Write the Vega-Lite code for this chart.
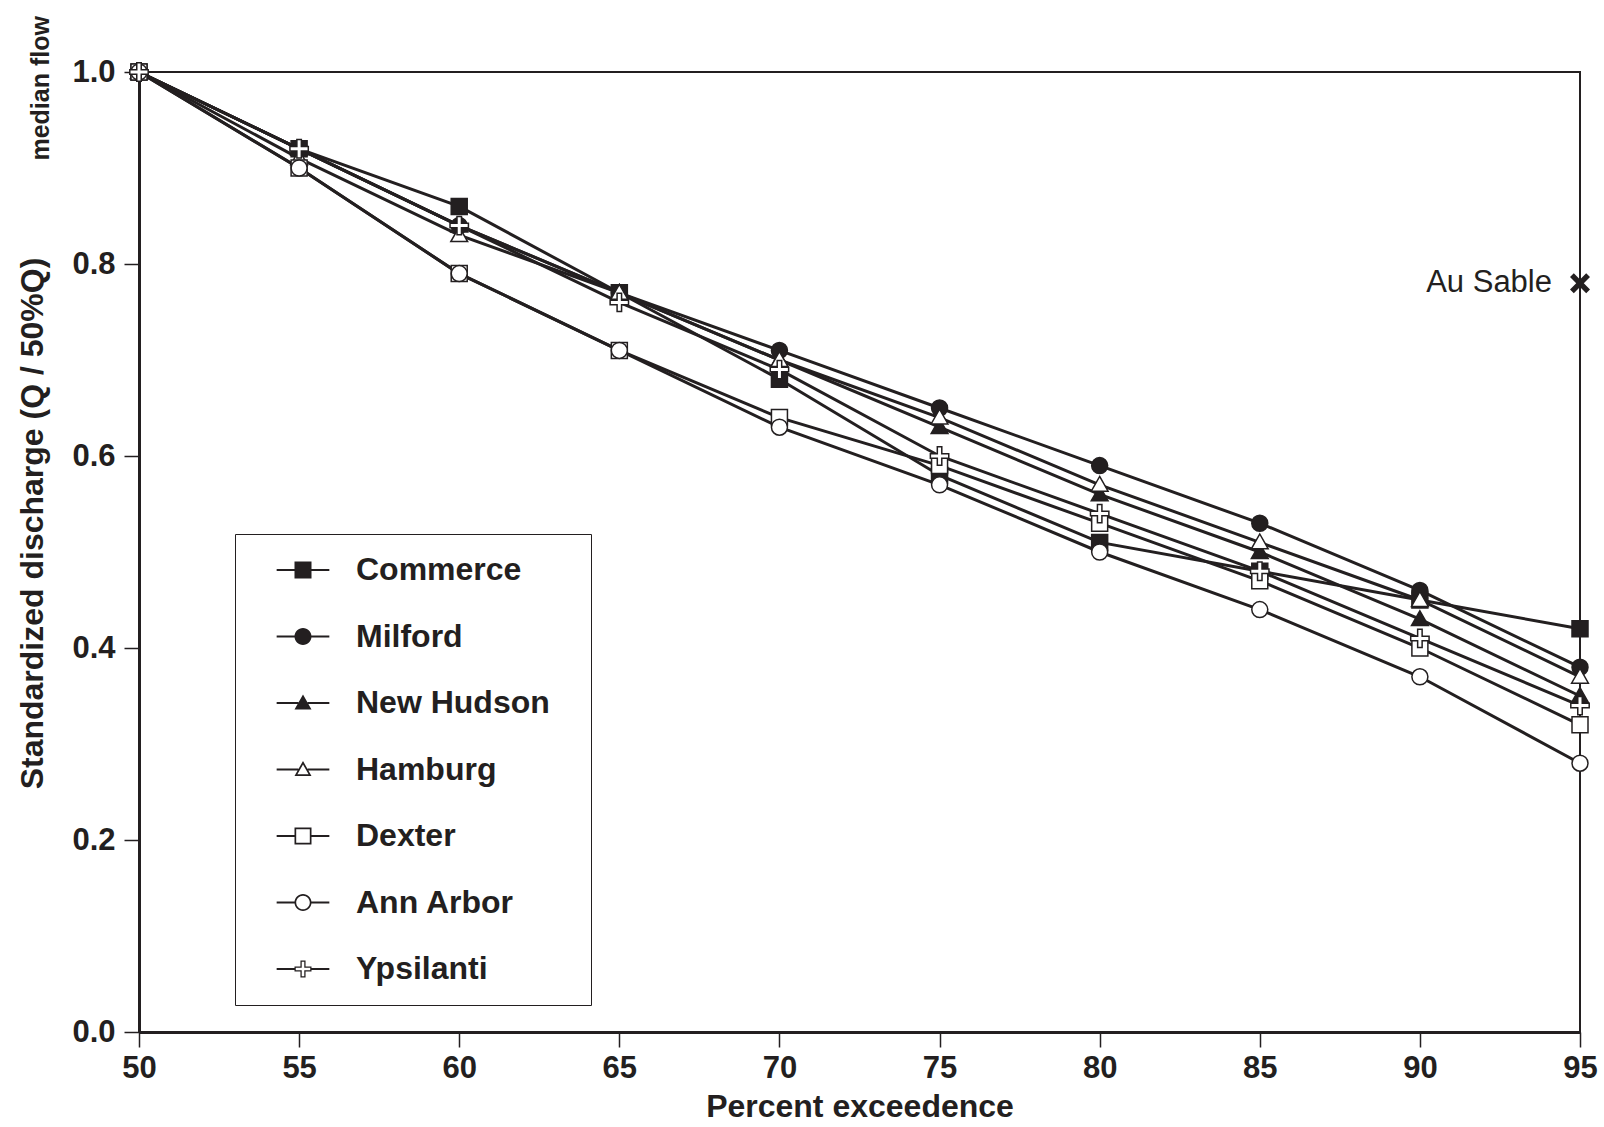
{
  "$schema": "https://vega.github.io/schema/vega-lite/v6.json",
  "width": 1441,
  "height": 960,
  "autosize": {"type": "none"},
  "padding": {"left": 139, "top": 72, "right": 24, "bottom": 95},
  "background": "white",
  "config": {
    "font": "Liberation Sans",
    "view": {"stroke": "#231f20", "strokeWidth": 2},
    "axis": {
      "grid": false,
      "domainColor": "#231f20", "domainWidth": 3,
      "tickColor": "#231f20", "tickWidth": 1.5, "tickSize": 15,
      "labelFont": "Liberation Sans", "labelFontSize": 31, "labelFontWeight": "bold", "labelColor": "#231f20",
      "titleFont": "Liberation Sans", "titleFontSize": 32, "titleFontWeight": "bold", "titleColor": "#231f20"
    }
  },
  "data": {"values": [
    {"site": "Commerce", "pct": 50, "q": 1.0}, {"site": "Commerce", "pct": 55, "q": 0.92}, {"site": "Commerce", "pct": 60, "q": 0.86}, {"site": "Commerce", "pct": 65, "q": 0.77}, {"site": "Commerce", "pct": 70, "q": 0.68}, {"site": "Commerce", "pct": 75, "q": 0.58}, {"site": "Commerce", "pct": 80, "q": 0.51}, {"site": "Commerce", "pct": 85, "q": 0.48}, {"site": "Commerce", "pct": 90, "q": 0.45}, {"site": "Commerce", "pct": 95, "q": 0.42},
    {"site": "Milford", "pct": 50, "q": 1.0}, {"site": "Milford", "pct": 55, "q": 0.92}, {"site": "Milford", "pct": 60, "q": 0.84}, {"site": "Milford", "pct": 65, "q": 0.77}, {"site": "Milford", "pct": 70, "q": 0.71}, {"site": "Milford", "pct": 75, "q": 0.65}, {"site": "Milford", "pct": 80, "q": 0.59}, {"site": "Milford", "pct": 85, "q": 0.53}, {"site": "Milford", "pct": 90, "q": 0.46}, {"site": "Milford", "pct": 95, "q": 0.38},
    {"site": "New Hudson", "pct": 50, "q": 1.0}, {"site": "New Hudson", "pct": 55, "q": 0.92}, {"site": "New Hudson", "pct": 60, "q": 0.84}, {"site": "New Hudson", "pct": 65, "q": 0.77}, {"site": "New Hudson", "pct": 70, "q": 0.70}, {"site": "New Hudson", "pct": 75, "q": 0.63}, {"site": "New Hudson", "pct": 80, "q": 0.56}, {"site": "New Hudson", "pct": 85, "q": 0.50}, {"site": "New Hudson", "pct": 90, "q": 0.43}, {"site": "New Hudson", "pct": 95, "q": 0.35},
    {"site": "Hamburg", "pct": 50, "q": 1.0}, {"site": "Hamburg", "pct": 55, "q": 0.91}, {"site": "Hamburg", "pct": 60, "q": 0.83}, {"site": "Hamburg", "pct": 65, "q": 0.77}, {"site": "Hamburg", "pct": 70, "q": 0.70}, {"site": "Hamburg", "pct": 75, "q": 0.64}, {"site": "Hamburg", "pct": 80, "q": 0.57}, {"site": "Hamburg", "pct": 85, "q": 0.51}, {"site": "Hamburg", "pct": 90, "q": 0.45}, {"site": "Hamburg", "pct": 95, "q": 0.37},
    {"site": "Dexter", "pct": 50, "q": 1.0}, {"site": "Dexter", "pct": 55, "q": 0.90}, {"site": "Dexter", "pct": 60, "q": 0.79}, {"site": "Dexter", "pct": 65, "q": 0.71}, {"site": "Dexter", "pct": 70, "q": 0.64}, {"site": "Dexter", "pct": 75, "q": 0.59}, {"site": "Dexter", "pct": 80, "q": 0.53}, {"site": "Dexter", "pct": 85, "q": 0.47}, {"site": "Dexter", "pct": 90, "q": 0.40}, {"site": "Dexter", "pct": 95, "q": 0.32},
    {"site": "Ann Arbor", "pct": 50, "q": 1.0}, {"site": "Ann Arbor", "pct": 55, "q": 0.90}, {"site": "Ann Arbor", "pct": 60, "q": 0.79}, {"site": "Ann Arbor", "pct": 65, "q": 0.71}, {"site": "Ann Arbor", "pct": 70, "q": 0.63}, {"site": "Ann Arbor", "pct": 75, "q": 0.57}, {"site": "Ann Arbor", "pct": 80, "q": 0.50}, {"site": "Ann Arbor", "pct": 85, "q": 0.44}, {"site": "Ann Arbor", "pct": 90, "q": 0.37}, {"site": "Ann Arbor", "pct": 95, "q": 0.28},
    {"site": "Ypsilanti", "pct": 50, "q": 1.0}, {"site": "Ypsilanti", "pct": 55, "q": 0.92}, {"site": "Ypsilanti", "pct": 60, "q": 0.84}, {"site": "Ypsilanti", "pct": 65, "q": 0.76}, {"site": "Ypsilanti", "pct": 70, "q": 0.69}, {"site": "Ypsilanti", "pct": 75, "q": 0.60}, {"site": "Ypsilanti", "pct": 80, "q": 0.54}, {"site": "Ypsilanti", "pct": 85, "q": 0.48}, {"site": "Ypsilanti", "pct": 90, "q": 0.41}, {"site": "Ypsilanti", "pct": 95, "q": 0.34}
  ]},
  "encoding": {
    "x": {"field": "pct", "type": "quantitative",
      "scale": {"domain": [50, 95], "nice": false, "zero": false},
      "axis": {"values": [50, 55, 60, 65, 70, 75, 80, 85, 90, 95], "title": "Percent exceedence", "labelFlush": false, "labelPadding": 6, "titlePadding": 8}},
    "y": {"field": "q", "type": "quantitative",
      "scale": {"domain": [0, 1], "nice": false},
      "axis": {"values": [0, 0.2, 0.4, 0.6, 0.8, 1.0], "format": ".1f", "title": "Standardized discharge (Q / 50%Q)", "labelFlush": false, "labelPadding": 9, "titlePadding": 22, "titleY": 451}}
  },
  "layer": [
    {
      "mark": {"type": "line", "color": "#231f20", "strokeWidth": 3},
      "encoding": {"detail": {"field": "site"}, "order": {"field": "pct"}}
    },
    {
      "mark": {"type": "point", "filled": true, "size": 256, "stroke": "#231f20", "strokeWidth": 1.5, "opacity": 1},
      "encoding": {
        "shape": {"field": "site", "type": "nominal", "legend": null,
          "scale": {"domain": ["Commerce", "Milford", "New Hudson", "Hamburg", "Dexter", "Ann Arbor", "Ypsilanti"],
            "range": ["M-1,-1H1V1H-1Z", "M-1,0A1,1,0,1,1,1,0A1,1,0,1,1,-1,0Z", "M0,-1.05L1.05,0.8H-1.05Z", "M0,-1.05L1.05,0.8H-1.05Z", "M-1,-1H1V1H-1Z", "M-1,0A1,1,0,1,1,1,0A1,1,0,1,1,-1,0Z", "M-0.28,-1.15H0.28V-0.28H1.15V0.28H0.28V1.15H-0.28V0.28H-1.15V-0.28H-0.28Z"]}},
        "fill": {"field": "site", "type": "nominal", "legend": null,
          "scale": {"domain": ["Commerce", "Milford", "New Hudson", "Hamburg", "Dexter", "Ann Arbor", "Ypsilanti"],
            "range": ["#231f20", "#231f20", "#231f20", "white", "white", "white", "white"]}}
      }
    },
    {
      "mark": {"type": "point", "filled": true, "size": 289, "color": "#231f20", "strokeWidth": 0, "opacity": 0},
      "encoding": {
        "shape": {"field": "site", "type": "nominal",
          "scale": {"domain": ["Commerce", "Milford", "New Hudson", "Hamburg", "Dexter", "Ann Arbor", "Ypsilanti"],
            "range": [
              "M-3.1,-0.12H-1V0.12H-3.1Z M1,-0.12H3.1V0.12H1Z M-1,-1H1V1H-1Z",
              "M-3.1,-0.12H-0.95V0.12H-3.1Z M0.95,-0.12H3.1V0.12H0.95Z M-1,0A1,1,0,1,1,1,0A1,1,0,1,1,-1,0Z",
              "M-3.1,-0.12H-0.55V0.12H-3.1Z M0.55,-0.12H3.1V0.12H0.55Z M0,-1L1,0.75H-1Z",
              "M-3.1,-0.12H-0.55V0.12H-3.1Z M0.55,-0.12H3.1V0.12H0.55Z M0,-1L1,0.75H-1Z M0,-0.6L-0.657,0.55H0.657Z",
              "M-3.1,-0.12H-1V0.12H-3.1Z M1,-0.12H3.1V0.12H1Z M-1,-1H1V1H-1Z M-0.8,-0.8V0.8H0.8V-0.8Z",
              "M-3.1,-0.12H-0.95V0.12H-3.1Z M0.95,-0.12H3.1V0.12H0.95Z M-1,0A1,1,0,1,1,1,0A1,1,0,1,1,-1,0Z M-0.8,0A0.8,0.8,0,1,0,0.8,0A0.8,0.8,0,1,0,-0.8,0Z",
              "M-3.1,-0.12H-0.95V0.12H-3.1Z M0.95,-0.12H3.1V0.12H0.95Z M-0.3,-1H0.3V-0.3H1V0.3H0.3V1H-0.3V0.3H-1V-0.3H-0.3Z M-0.15,-0.85V-0.15H-0.85V0.15H-0.15V0.85H0.15V0.15H0.85V-0.15H0.15V-0.85Z"
            ]},
          "legend": {"title": null, "orient": "none", "legendX": 96, "legendY": 462, "direction": "vertical",
            "padding": 20, "rowPadding": 34.5, "symbolOffset": 32, "labelOffset": 37, "labelLimit": 500, "symbolSize": 289,
            "symbolOpacity": 1, "symbolFillColor": "#231f20", "symbolStrokeWidth": 0,
            "labelExpr": "datum.label + '\u00a0\u00a0\u200a\u200b'",
            "labelFont": "Liberation Sans", "labelFontSize": 32, "labelFontWeight": "bold", "labelColor": "#231f20",
            "strokeColor": "#231f20", "fillColor": "white"}}
      }
    },
    {
      "data": {"values": [{"label": "Au Sable", "pct": 95, "q": 0.78}]},
      "mark": {"type": "point", "shape": "M-1,-0.62L-0.62,-1L0,-0.38L0.62,-1L1,-0.62L0.38,0L1,0.62L0.62,1L0,0.38L-0.62,1L-1,0.62L-0.38,0Z", "size": 400, "filled": true, "color": "#231f20", "opacity": 1}
    },
    {
      "data": {"values": [{"label": "Au Sable", "pct": 95, "q": 0.78}]},
      "mark": {"type": "text", "align": "right", "baseline": "middle", "dx": -28, "font": "Liberation Sans", "fontSize": 31, "color": "#231f20"},
      "encoding": {"text": {"field": "label"}}
    },
    {
      "data": {"values": [{"label": "median flow", "pct": 50, "q": 0.983}]},
      "mark": {"type": "text", "align": "center", "baseline": "middle", "angle": 270, "dy": -98, "font": "Liberation Sans", "fontSize": 25, "fontWeight": "bold", "color": "#231f20"},
      "encoding": {"text": {"field": "label"}}
    }
  ],
  "resolve": {"scale": {"shape": "independent", "fill": "independent"}}
}
